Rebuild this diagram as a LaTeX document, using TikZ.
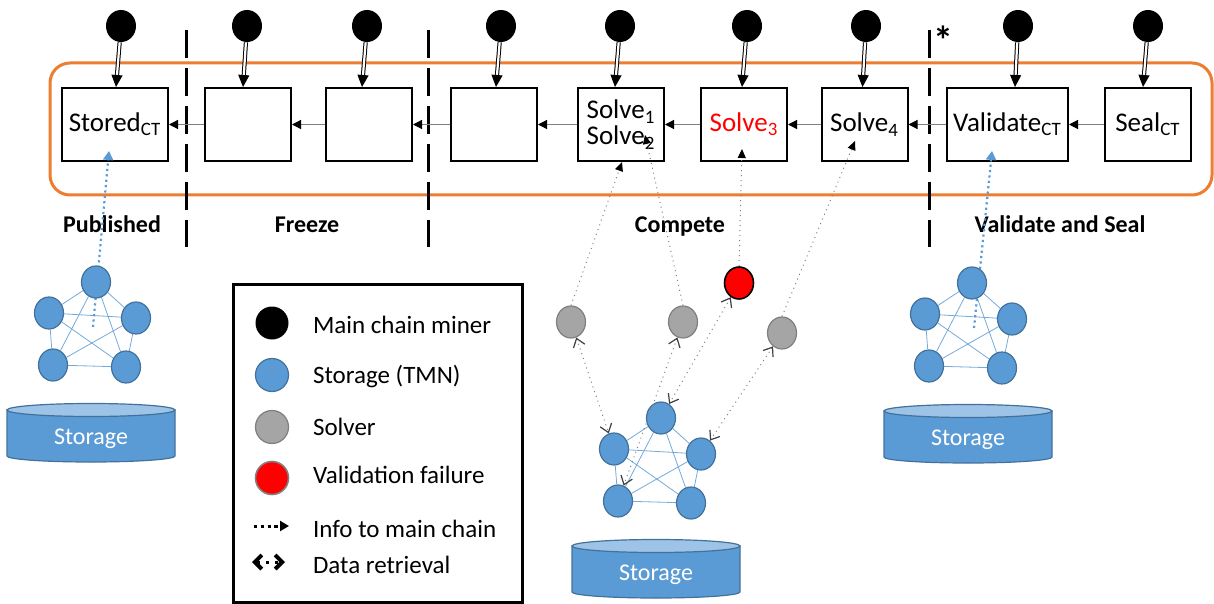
\documentclass[tikz,border=0pt]{standalone}
\usepackage{fontspec}
\setmainfont{Carlito}
\usetikzlibrary{arrows.meta,shapes.geometric,backgrounds}

\definecolor{chainorange}{HTML}{ED7D31}
\definecolor{tmnblue}{HTML}{5B9BD5}
\definecolor{tmnedge}{HTML}{41719C}
\definecolor{tmnlight}{HTML}{9DC3E6}
\definecolor{solvergray}{HTML}{A5A5A5}
\definecolor{solveredge}{HTML}{7F7F7F}

% storage drum: centre x, y of top rim, name of its label
\newcommand{\storagedb}[3]{%
  \filldraw[fill=tmnblue,draw=tmnedge,line width=0.6pt] ({#1-84},#2) -- ({#1-84},{#2+46})
    arc[start angle=180,end angle=360,x radius=42pt,y radius=3pt] -- ({#1+84},#2) -- cycle;
  \filldraw[fill=tmnlight,draw=tmnedge,line width=0.6pt] (#1,#2) ellipse[x radius=42pt,y radius=3.25pt];
  \node[text=white,font=\fontsize{12}{14}\selectfont] (#3) at (#1,{#2+29}) {Storage};
}

\begin{document}
\begin{tikzpicture}[x=0.5pt,y=-0.5pt,
  blk/.style={draw,line width=1pt,fill=white,minimum width=43pt,minimum height=36.5pt,
    inner sep=1pt,font=\fontsize{13.5}{13}\selectfont},
  miner/.style={ellipse,fill=black,minimum width=15pt,minimum height=16pt,inner sep=0pt},
  tmn/.style={ellipse,fill=tmnblue,draw=tmnedge,line width=0.6pt,minimum width=14.5pt,
    minimum height=16pt,inner sep=0pt},
  solver/.style={ellipse,fill=solvergray,draw=solveredge,line width=0.6pt,minimum width=14.5pt,
    minimum height=16pt,inner sep=0pt},
  failed/.style={ellipse,fill=red,draw=black,line width=0.8pt,minimum width=14.5pt,
    minimum height=16pt,inner sep=0pt},
  minearrow/.style={double,double distance=1.1pt,line width=0.5pt,-{Triangle[width=5.5pt,length=6pt]}},
  link/.style={draw=gray,line width=0.6pt,-{Triangle[width=4.5pt,length=4.5pt,color=black]}},
  mesh/.style={draw=tmnblue!85,line width=0.4pt},
  infoline/.style={draw=gray,dotted,line width=0.5pt,-{Triangle[width=4pt,length=4.5pt,color=black]}},
  retrieve/.style={draw=gray,dotted,line width=0.5pt,
    {Straight Barb[length=4pt,width=6pt,line width=0.6pt,color=black!75]}-{Straight Barb[length=4pt,width=6pt,line width=0.6pt,color=black!75]}},
  infoblue/.style={draw=tmnblue,line width=1.1pt,dash pattern=on 1.1pt off 1.6pt,
    -{Triangle[width=5pt,length=4.5pt]}},
  phasesep/.style={line width=1.5pt,dash pattern=on 14pt off 5pt},
  phase/.style={anchor=base,font=\bfseries\fontsize{12}{14}\selectfont},
  legtext/.style={anchor=base west,font=\fontsize{12.5}{15}\selectfont}
]
  \useasboundingbox (0,0) rectangle (1214,604);

  % the chain
  \draw[chainorange,line width=1.5pt,rounded corners=10pt] (50,63) rectangle (1212,195);
  \draw[phasesep] (186,30) -- (186,247);
  \draw[phasesep] (428,30) -- (428,247);
  \draw[phasesep] (929,30) -- (929,247);
  \node[font=\bfseries\fontsize{20}{20}\selectfont] (ast) at (943,40) {*};

  \node[blk,minimum width=53pt] (b1) at (115,124.5) {Stored\textsubscript{CT}};
  \node[blk] (b2) at (248,124.5) {};
  \node[blk] (b3) at (369,124.5) {};
  \node[blk] (b4) at (494,124.5) {};
  \node[blk,align=left] (b5) at (621,124.5) {Solve\textsubscript{1}\\Solve\textsubscript{2}};
  \node[blk,text=red] (b6) at (744,124.5) {Solve\textsubscript{3}};
  \node[blk] (b7) at (864.5,124.5) {Solve\textsubscript{4}};
  \node[blk,minimum width=60.5pt] (b8) at (1007.5,124.5) {Validate\textsubscript{CT}};
  \node[blk] (b9) at (1148,124.5) {Seal\textsubscript{CT}};

  \foreach \i [evaluate=\i as \j using int(\i-1)] in {2,...,9}
    \draw[link] (b\i) -- (b\j);

  \foreach \i/\mx/\dx in {1/121/1, 2/247/-5, 3/367/-7, 4/501/2, 5/620/-6,
                          6/747/-2, 7/866/-2, 8/1018/7.5, 9/1148/-5} {
    \node[miner] (m\i) at (\mx,26) {};
    \draw[minearrow] (m\i) -- ([xshift=\dx*0.5pt]b\i.north);
  }

  \node[phase] (ph1) at (112,233) {Published};
  \node[phase] (ph2) at (307,233) {Freeze};
  \node[phase] (ph3) at (680,233) {Compete};
  \node[phase] (ph4) at (1060,233) {Validate and Seal};

  % storage networks
  \coordinate (Lsrc) at (93,327);
  \coordinate (Rsrc) at (974,328);
  \draw[infoblue] (Lsrc) -- ([xshift=-3pt,yshift=5.5pt]b1.south);
  \draw[infoblue] (Rsrc) -- ([xshift=-7.75pt,yshift=5.5pt]b8.south);

  \foreach \c/\x/\y in {L/0/0, R/876/1, M/565/136}
    \foreach \p/\dx/\dy in {t/96/282, l/49/313, r/136/318, bl/53/365, br/126/367}
      \node[tmn] (\c\p) at (\x+\dx,\y+\dy) {};

  \begin{pgfonlayer}{background}
    \foreach \c in {L,R,M}
      \foreach \a/\b in {t/l,t/r,t/bl,t/br,l/r,l/bl,l/br,r/bl,r/br,bl/br}
        \draw[mesh] (\c\a) -- (\c\b);
  \end{pgfonlayer}

  \storagedb{91}{410}{s1}
  \storagedb{968}{411}{s2}
  \storagedb{656}{546}{s3}

  % solvers
  \node[solver] (g1) at (571,322) {};
  \node[solver] (g2) at (683,322) {};
  \node[solver] (g3) at (782,333) {};
  \node[failed] (r1) at (739,283) {};

  \draw[infoline] (g1.north) -- ([xshift=0.5pt]b5.south);
  \draw[infoline] (g2.north) -- ([xshift=12pt,yshift=-5.25pt]b5.center);
  \draw[infoline] (r1.north) -- ([xshift=-1pt,yshift=6.5pt]b6.south);
  \draw[infoline] (g3.north) -- ([xshift=-4.75pt,yshift=10.5pt]b7.south);

  \draw[retrieve] (g1) -- (Ml);
  \draw[retrieve] (g2) -- (Mbl);
  \draw[retrieve] (r1) -- (Mt);
  \draw[retrieve] (g3) -- (Mr);

  % legend
  \draw[line width=1.5pt] (233,284) rectangle (522,602);
  \node[miner,minimum width=16.5pt,minimum height=16.5pt] (k1) at (272,323) {};
  \node[tmn,minimum width=16.5pt,minimum height=16.5pt] (k2) at (272,375) {};
  \node[solver,minimum width=16.5pt,minimum height=16.5pt] (k3) at (272,427) {};
  \node[failed,draw=gray,minimum width=16.5pt,minimum height=16.5pt] (k4) at (272,478) {};
  \node[legtext] (l1) at (306,333) {Main chain miner};
  \node[legtext] (l2) at (306,383) {Storage (TMN)};
  \node[legtext] (l3) at (306,435) {Solver};
  \node[legtext] (l4) at (306,483) {Validation failure};
  \node[legtext] (l5) at (306,537) {Info to main chain};
  \node[legtext] (l6) at (306,573) {Data retrieval};
  \coordinate (i1) at (254,526);
  \coordinate (i2) at (289,526);
  \coordinate (d1) at (252,562);
  \coordinate (d2) at (285,562);
  \draw[line width=1.5pt,dash pattern=on 1.6pt off 1.8pt,-{Triangle[width=5pt,length=4.5pt]}] (i1) -- (i2);
  \draw[line width=1.5pt,dash pattern=on 1.6pt off 3pt,
    {Straight Barb[length=3.5pt,width=7pt,line width=2pt]}-{Straight Barb[length=3.5pt,width=7pt,line width=2pt]}] (d1) -- (d2);
\end{tikzpicture}
\end{document}
